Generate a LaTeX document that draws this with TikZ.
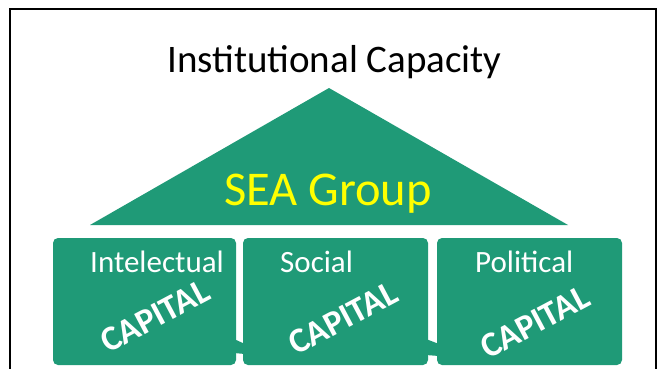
\documentclass[tikz,border=0pt]{standalone}
\usepackage{fontspec}
\setmainfont{Carlito}
\definecolor{seagreen}{HTML}{1F9A77}
\definecolor{seayellow}{HTML}{FFFF00}
\begin{document}
\begin{tikzpicture}[x=1pt,y=-1pt,
  capbox/.style={fill=seagreen, rounded corners=5pt},
  captitle/.style={anchor=base west, text=white, font=\fontsize{31}{36}\selectfont, inner sep=0pt},
  capword/.style={text=white, font=\bfseries\fontsize{35}{40}\selectfont, rotate=28, inner sep=0pt},
  bridge/.style={fill=seagreen}]
\useasboundingbox (0,0) rectangle (666,369);
% frame (open at the bottom)
\draw[line width=1.5pt] (10,369) -- (10,9) -- (656,9) -- (656,369);
% title
\node[anchor=base west, inner sep=0pt, font=\fontsize{39}{44}\selectfont] (title) at (167,73) {Institutional Capacity};
% roof
\fill[seagreen] (90,225) -- (329,88) -- (568,225) -- cycle;
\node[anchor=base, inner sep=0pt, text=seayellow, font=\fontsize{48.5}{52}\selectfont] (sea) at (328,205) {SEA Group};
% bridges between boxes
\fill[bridge] (234,339) -- (245,344) -- (245,354) -- (234,353) -- cycle;
\fill[bridge] (426,339) -- (439,344) -- (439,356) -- (426,355) -- cycle;
% boxes
\fill[capbox] (53,238) rectangle (236,365);
\fill[capbox] (243,238) rectangle (428,365);
\fill[capbox] (437,238) rectangle (622,365);
\node[captitle] (t1) at (90,272) {Intelectual};
\node[captitle] (t2) at (280,272) {Social};
\node[captitle] (t3) at (475,272) {Political};
\node[capword] (c1) at (155,316) {CAPITAL};
\node[capword] (c2) at (343,318) {CAPITAL};
\node[capword] (c3) at (535,322) {CAPITAL};
\end{tikzpicture}
\end{document}
